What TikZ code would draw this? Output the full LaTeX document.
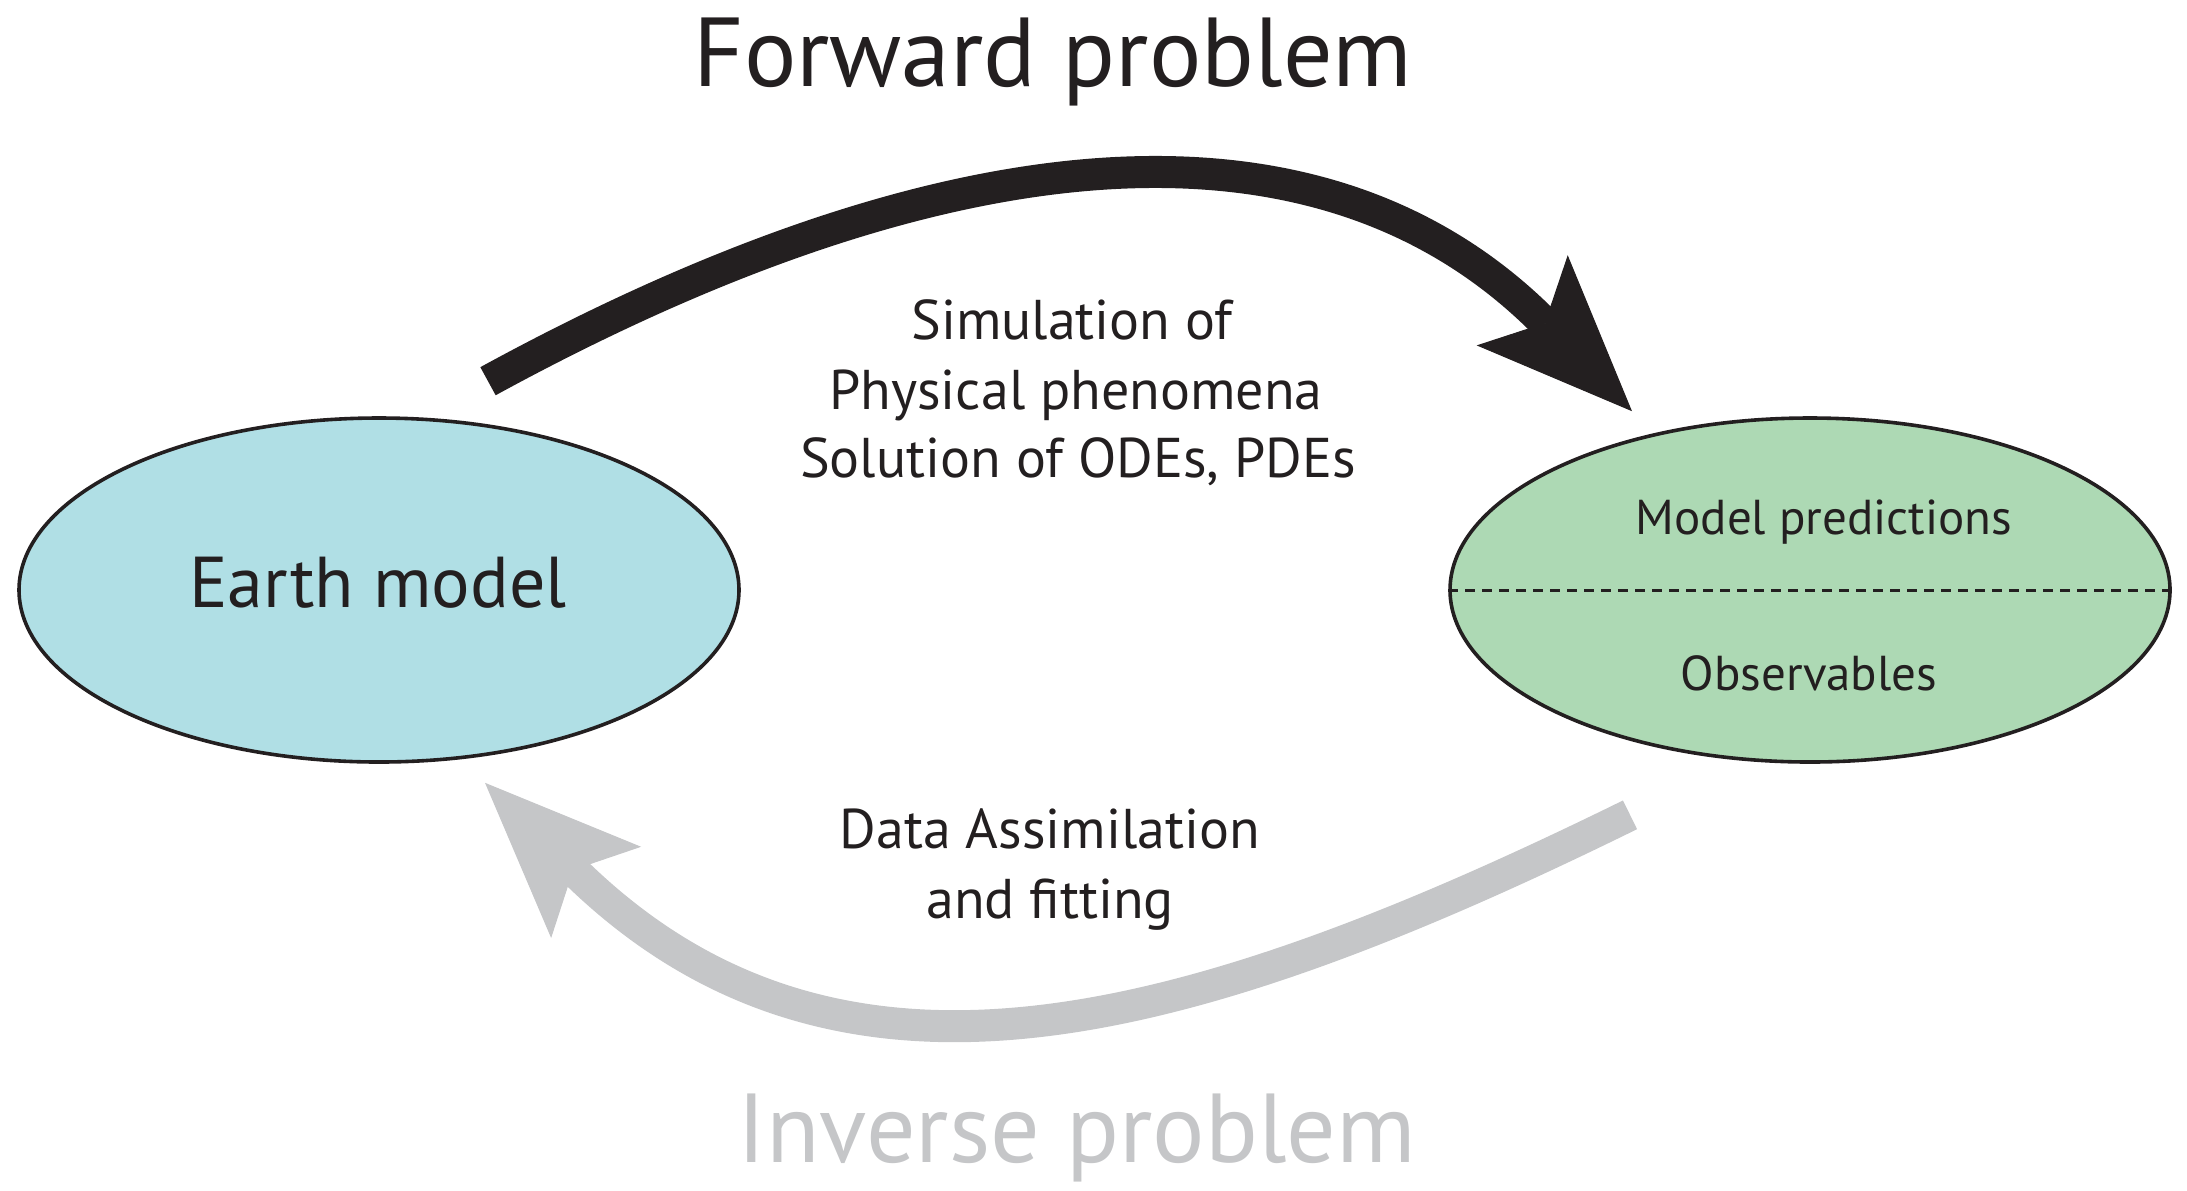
\documentclass[tikz,border=0pt]{standalone}
\usepackage{fontspec}
\setmainfont{PT Sans}
\usetikzlibrary{shapes.geometric,arrows.meta}

\definecolor{inkdark}{HTML}{231F20}
\definecolor{arrowgrey}{HTML}{C5C6C8}
\definecolor{earthblue}{HTML}{B0DFE5}
\definecolor{predgreen}{HTML}{ADD9B4}

\tikzset{every picture/.style={line width=0.75pt}}
\tikzset{
  blob/.style={ellipse, draw=inkdark, line width=1.8pt, inner sep=0pt,
    minimum width=360pt, minimum height=172pt},
  bigarrow/.style={line width=16pt,
    -{Stealth[length=78pt, width=64pt, inset=16pt, line width=0.5pt]}},
  label/.style={inner sep=0pt, text=inkdark, anchor=base},
}

\begin{document}
\begin{tikzpicture}[x=0.5pt,y=0.5pt,yscale=-1,xscale=1]
\useasboundingbox (0,0) rectangle (2187,1190);

%Shape: Ellipse
\node [blob, fill=earthblue] (earth) at (379,590) {};
%Shape: Ellipse
\node [blob, fill=predgreen] (pred) at (1810,590) {};
%Straight Lines (dashed split)
\draw [inkdark, line width=1.5pt, dash pattern=on 5pt off 3.5pt] (pred.west) -- (pred.east);

% Text Node
\node [label, font=\fontsize{36}{44}\selectfont] (earthtxt) at (378,607) {Earth model};
% Text Node
\node [label, font=\fontsize{24.5}{30}\selectfont] (predtxt) at (1824,534) {Model predictions};
% Text Node
\node [label, font=\fontsize{24.5}{30}\selectfont] (obstxt) at (1809,690) {Observables};

% arrow ends
\coordinate (fwdfrom) at ([shift={(109,-35)}]earth.north);
\coordinate (fwdto) at ([shift={(-178,-5)}]pred.north);
\coordinate (invfrom) at ([shift={(-180,51)}]pred.south);
\coordinate (invto) at ([shift={(106,19)}]earth.south);

%Curve Lines: forward
\draw [bigarrow, inkdark] (fwdfrom) .. controls (911,150) and (1306,82) .. (fwdto);
%Curve Lines: inverse
\draw [bigarrow, arrowgrey] (invfrom) .. controls (1172,1040) and (832,1125) .. (invto);

% Text Node
\node [label, font=\fontsize{49}{58}\selectfont] (fwdtitle) at (1053,86) {Forward problem};
% Text Node
\node [label, text=arrowgrey, font=\fontsize{49}{58}\selectfont] (invtitle) at (1077,1162) {Inverse problem};

% Text Node
\node [label, font=\fontsize{28}{34.5}\selectfont] (simtxt1) at (1072,339) {Simulation of};
\node [label, font=\fontsize{28}{34.5}\selectfont] (simtxt2) at (1076,409) {Physical phenomena};
\node [label, font=\fontsize{28}{34.5}\selectfont] (simtxt3) at (1078,477) {Solution of ODEs, PDEs};

% Text Node
\node [label, font=\fontsize{28}{34.5}\selectfont] (fittxt1) at (1050,848) {Data Assimilation};
\node [label, font=\fontsize{28}{34.5}\selectfont] (fittxt2) at (1050,918) {and fitting};

\end{tikzpicture}
\end{document}
